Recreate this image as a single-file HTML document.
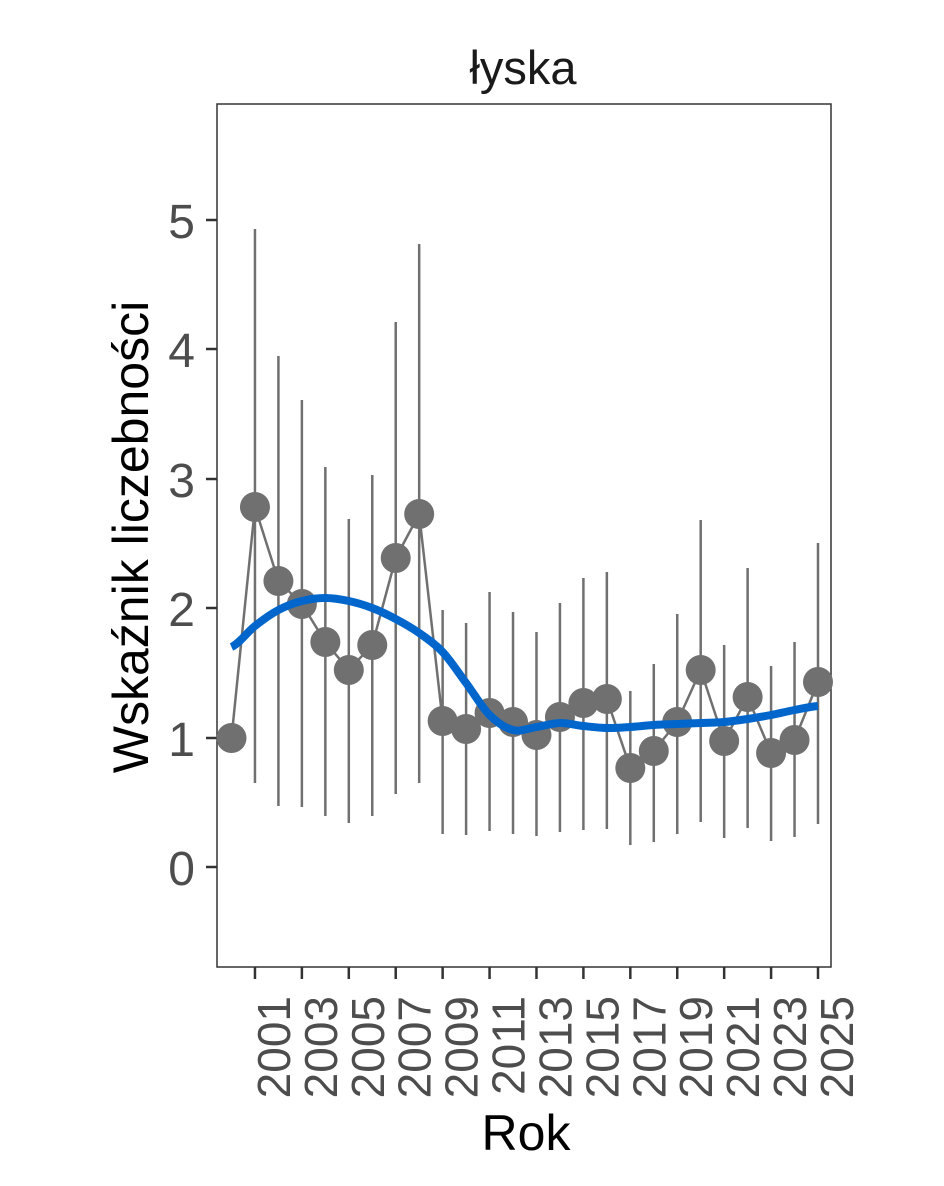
<!DOCTYPE html>
<html><head><meta charset="utf-8"><style>html,body{margin:0;padding:0;background:#fff}</style></head>
<body>
<svg id="svg" width="944" height="1181" viewBox="0 0 944 1181" xmlns="http://www.w3.org/2000/svg" font-family="Liberation Sans, Arial, sans-serif">
<rect width="944" height="1181" fill="#fff"/>
<rect x="217" y="104" width="614" height="863" fill="none" stroke="#333" stroke-width="1.5"/>
<g stroke="#333" stroke-width="2.5">
<line x1="206" y1="867" x2="217" y2="867"/><line x1="206" y1="738" x2="217" y2="738"/><line x1="206" y1="608" x2="217" y2="608"/><line x1="206" y1="479" x2="217" y2="479"/><line x1="206" y1="349" x2="217" y2="349"/><line x1="206" y1="220" x2="217" y2="220"/>
</g>
<g font-size="48" fill="#4d4d4d" text-anchor="end">
<text x="195" y="885">0</text><text x="195" y="756">1</text><text x="195" y="626">2</text><text x="195" y="497">3</text><text x="195" y="367">4</text><text x="195" y="238">5</text>
</g>
<g id="xt"></g>
<g stroke="#707070" stroke-width="2.5" id="bars"></g>
<polyline id="ln" fill="none" stroke="#707070" stroke-width="2.5"/>
<g id="pts" fill="#707070"></g>
<path id="sm" fill="none" stroke="#0066cc" stroke-width="8" stroke-linejoin="round"/>
<text x="523" y="84" font-size="47" text-anchor="middle" fill="#1a1a1a">łyska</text>
<text x="526" y="1150" font-size="50" text-anchor="middle" fill="#000">Rok</text>
<text transform="translate(148,537) rotate(-90)" font-size="50" text-anchor="middle" fill="#000">Wskaźnik liczebności</text>
</svg>
<script>
var d=[[738,738,738],[507,229,783],[581,356,806],[604,400,807],[642,467,816],[670,519,823],[645,475,816],[558,322,794],[514,244,783],[721,610,834],[729,623,835],[713,592,831],[722,612,834],[735,632,836],[717,603,832],[703,578,830],[699,572,829],[768,691,845],[751,664,842],[722,614,834],[670,520,822],[741,645,838],[697,568,828],[753,666,841],[740,642,837],[682,543,824]];
var sm=[647,626,610,601,598,601,608,619,633,652,683,715,730,727,723,726,728,727,725,724,723,722,719,715,710,706];
var ns="http://www.w3.org/2000/svg";function X(i){return 231.5+i*23.46;}
var b=document.getElementById('bars'),p=document.getElementById('pts'),xt=document.getElementById('xt'),pl=[];
d.forEach(function(v,i){var x=X(i);if(v[1]!=v[2]){var l=document.createElementNS(ns,'line');l.setAttribute('x1',x);l.setAttribute('x2',x);l.setAttribute('y1',v[1]);l.setAttribute('y2',v[2]);b.appendChild(l);}
var c=document.createElementNS(ns,'circle');c.setAttribute('cx',x);c.setAttribute('cy',v[0]);c.setAttribute('r',15);p.appendChild(c);pl.push(x+','+v[0]);
if(i%2==1){var t=document.createElementNS(ns,'line');t.setAttribute('x1',x);t.setAttribute('x2',x);t.setAttribute('y1',967);t.setAttribute('y2',979);t.setAttribute('stroke','#333');t.setAttribute('stroke-width',2.5);xt.appendChild(t);
var tx=document.createElementNS(ns,'text');tx.setAttribute('transform','translate('+(x+35)+',996) rotate(-90)');tx.setAttribute('font-size','46');tx.setAttribute('fill','#4d4d4d');tx.setAttribute('text-anchor','end');tx.textContent=2000+i;xt.appendChild(tx);}});
var sp="M"+X(0)+","+sm[0];
for(var i=0;i<sm.length-1;i++){var y0=sm[Math.max(i-1,0)],y1=sm[i],y2=sm[i+1],y3=sm[Math.min(i+2,sm.length-1)];var h=23.46;
sp+=" C"+(X(i)+h/3)+","+(y1+(y2-y0)/6)+" "+(X(i+1)-h/3)+","+(y2-(y3-y1)/6)+" "+X(i+1)+","+y2;}
document.getElementById('ln').setAttribute('points',pl.join(' '));document.getElementById('sm').setAttribute('d',sp);
</script>
</body></html>
